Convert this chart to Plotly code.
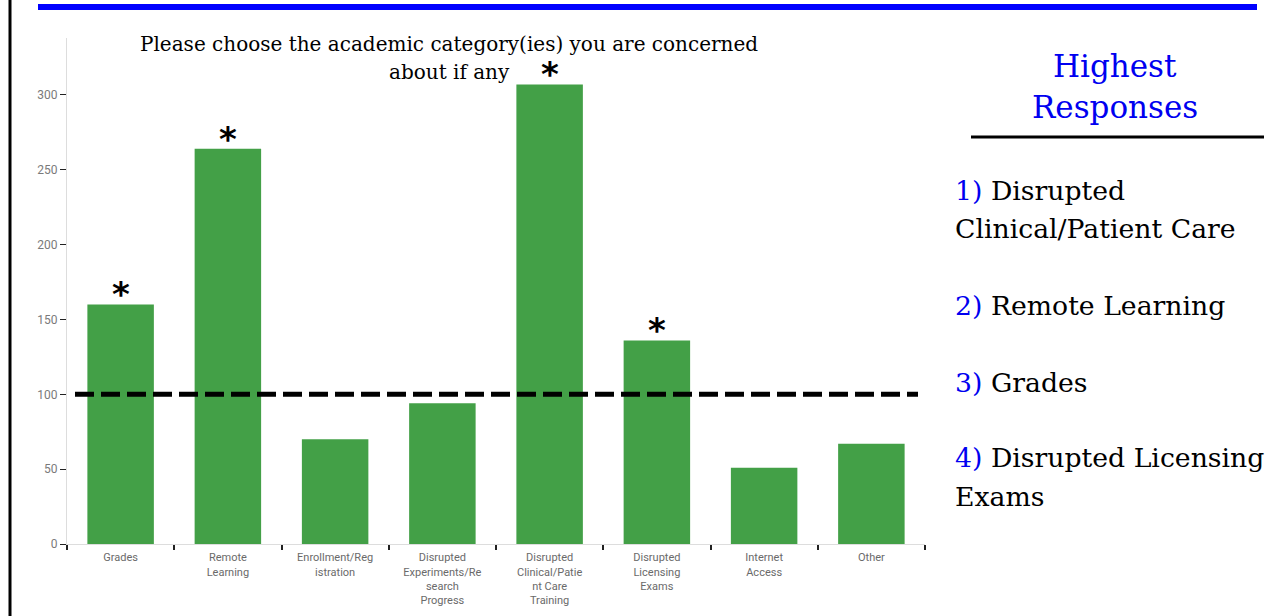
import plotly.graph_objects as go

# Survey responses: academic categories of concern
categories = [
    "Grades",
    "Remote<br>Learning",
    "Enrollment/Reg<br>istration",
    "Disrupted<br>Experiments/Re<br>search<br>Progress",
    "Disrupted<br>Clinical/Patie<br>nt Care<br>Training",
    "Disrupted<br>Licensing<br>Exams",
    "Internet<br>Access",
    "Other",
]
responses = [160, 264, 70, 94, 307, 136, 51, 67]
highlighted = [True, True, False, False, True, True, False, False]
threshold = 100
y_ticks = [0, 50, 100, 150, 200, 250, 300]

chart_title_lines = [
    "Please choose the academic category(ies) you are concerned",
    "about if any",
]
ranking_title_lines = ["Highest", "Responses"]
# each ranked entry: (number, first line, optional continuation line)
ranking_items = [
    ("1)", "Disrupted", "Clinical/Patient Care"),
    ("2)", "Remote Learning", None),
    ("3)", "Grades", None),
    ("4)", "Disrupted Licensing", "Exams"),
]

W, H = 1276, 616
L, R, T, B = 67, 351, 38, 72
plot_w = W - L - R
plot_h = H - T - B


def px_x(x):
    return (x - L) / plot_w


def px_y(y):
    return (H - B - y) / plot_h


SERIF = "DejaVu Serif"
BLUE = "#0000f0"

fig = go.Figure()
fig.add_trace(go.Bar(
    x=categories,
    y=responses,
    marker=dict(color="#43a047", line=dict(width=0)),
    width=0.62,
    showlegend=False,
    hoverinfo="x+y",
))

annotations = []
# asterisks over the most frequent categories
for cat, val, hl in zip(categories, responses, highlighted):
    if hl:
        annotations.append(dict(
            x=cat, y=val, xref="x", yref="y", text="<b>*</b>",
            showarrow=False, yanchor="bottom", yshift=-12,
            font=dict(family="DejaVu Sans", size=34, color="#000"),
        ))

# chart title, two centred lines
for line, cy in zip(chart_title_lines, [44, 72]):
    annotations.append(dict(
        x=px_x(449), y=px_y(cy), xref="paper", yref="paper", text=line,
        showarrow=False, xanchor="center", yanchor="middle",
        font=dict(family=SERIF, size=20, color="#000"),
    ))

# side panel heading
for line, cy in zip(ranking_title_lines, [66, 107]):
    annotations.append(dict(
        x=px_x(1115), y=px_y(cy), xref="paper", yref="paper", text=line,
        showarrow=False, xanchor="center", yanchor="middle",
        font=dict(family=SERIF, size=31, color=BLUE),
    ))

# side panel ranked list
item_rows = [(190, 228), (305, None), (382, None), (457, 496)]
for (num, first, second), (y1, y2) in zip(ranking_items, item_rows):
    annotations.append(dict(
        x=px_x(953), y=px_y(y1), xref="paper", yref="paper",
        text=f"<span style='color:{BLUE}'>{num}</span> {first}",
        showarrow=False, xanchor="left", yanchor="middle",
        font=dict(family=SERIF, size=26.7, color="#000"),
    ))
    if second:
        annotations.append(dict(
            x=px_x(953), y=px_y(y2), xref="paper", yref="paper", text=second,
            showarrow=False, xanchor="left", yanchor="middle",
            font=dict(family=SERIF, size=26.7, color="#000"),
        ))

shapes = [
    # threshold line
    dict(type="line", xref="paper", yref="y", x0=px_x(75), x1=px_x(918),
         y0=threshold, y1=threshold,
         line=dict(color="#000", width=5, dash="19px,7px")),
    # blue banner
    dict(type="rect", xref="paper", yref="paper", x0=px_x(38), x1=px_x(1257),
         y0=px_y(10), y1=px_y(4), fillcolor="#0000ff", line=dict(width=0)),
    # left frame line
    dict(type="line", xref="paper", yref="paper", x0=px_x(10), x1=px_x(10),
         y0=px_y(0), y1=px_y(H), line=dict(color="#000", width=3)),
    # rule under the ranking heading
    dict(type="line", xref="paper", yref="paper", x0=px_x(971), x1=px_x(1264),
         y0=px_y(137), y1=px_y(137), line=dict(color="#000", width=3)),
]

fig.update_layout(
    width=W, height=H,
    margin=dict(l=L, r=R, t=T, b=B, pad=0, autoexpand=False),
    paper_bgcolor="#fff", plot_bgcolor="#fff",
    annotations=annotations,
    shapes=shapes,
    xaxis=dict(
        type="category", tickson="boundaries", ticks="outside", ticklen=5,
        tickcolor="#222", tickwidth=1.5, showline=True, linecolor="#ddd",
        showgrid=False, ticklabelstandoff=3, automargin=False,
        tickfont=dict(family="Roboto", size=11, color="#6a6a6a"),
        fixedrange=True,
    ),
    yaxis=dict(
        range=[0, 338], tickvals=y_ticks, ticks="outside", ticklen=6,
        tickcolor="#222", showline=True, linecolor="#ddd", showgrid=False,
        zeroline=False, automargin=False,
        tickfont=dict(family="Roboto", size=12, color="#7a7a7a"),
        fixedrange=True,
    ),
)

fig.write_html("out.html")
